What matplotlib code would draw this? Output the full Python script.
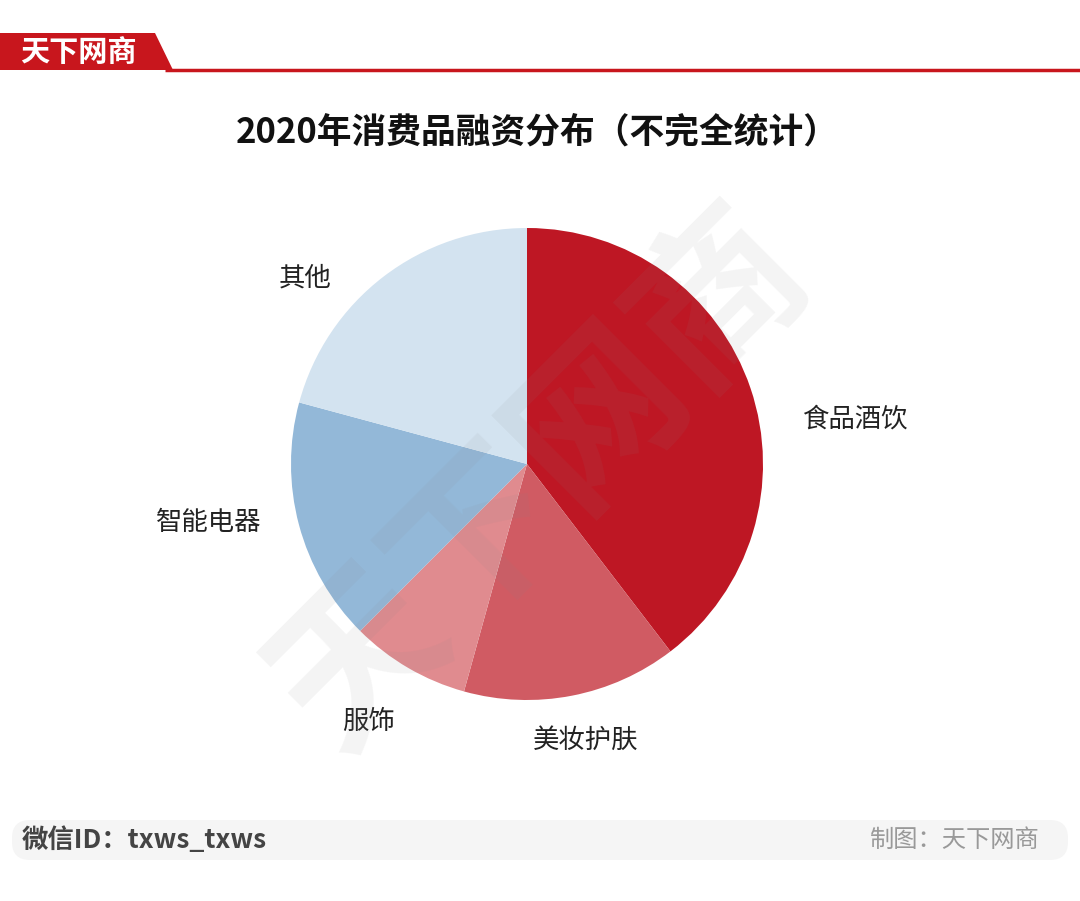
import numpy as np
import matplotlib.pyplot as plt
from matplotlib.patches import Polygon, FancyBboxPatch

plt.rcParams['font.family'] = ['Noto Sans CJK SC', 'DejaVu Sans']

# 数据 (按图中扇区角度估计, %)
categories = ['食品酒饮', '美妆护肤', '服饰', '智能电器', '其他']
shares = [39.6, 14.7, 8.2, 16.7, 20.8]
colors = ['#BE1724', '#D05B63', '#E08B8F', '#93B8D8', '#D3E3F0']
# 标签位置 (以半径为单位)
label_pos = [(1.39, 0.19), (0.25, -1.17), (-0.67, -1.09), (-1.35, -0.25), (-0.94, 0.79)]

title = '2020年消费品融资分布（不完全统计）'

fig = plt.figure(figsize=(10.8, 9.01), dpi=100)

# 背景层, 像素坐标
bg = fig.add_axes([0, 0, 1, 1])
bg.set_xlim(0, 1080)
bg.set_ylim(901, 0)
bg.axis('off')

# 顶部红色标签和横线
bg.add_patch(Polygon([(0, 33), (155, 33), (173, 70), (0, 70)], closed=True,
                     facecolor='#C8161D', edgecolor='none'))
bg.plot([165, 1080], [70, 70], color='#C8161D', lw=2.5, solid_capstyle='butt')
bg.text(78, 52, '天下网商', color='white', fontsize=21, fontweight='bold',
        ha='center', va='center')

# 标题
bg.text(537, 132, title, fontsize=25, fontweight='bold', color='#111111',
        ha='center', va='center')

# 底部信息栏
bg.add_patch(FancyBboxPatch((12, 820), 1056, 40, boxstyle='round,pad=0,rounding_size=18',
                            facecolor='#F5F5F5', edgecolor='none'))
bg.text(22, 840, '微信ID：txws_txws', fontsize=19, fontweight='bold', color='#444444',
        ha='left', va='center')
bg.text(1040, 840, '制图：天下网商', fontsize=17.5, color='#999999',
        ha='right', va='center')

# 饼图, 1 数据单位 = 236 px, 中心 (527, 464)
r_px = 236
left = (527 - 2.2 * r_px) / 1080
bottom = (901 - 464 - 1.6 * r_px) / 901
ax = fig.add_axes([left, bottom, 4.4 * r_px / 1080, 3.2 * r_px / 901])
ax.patch.set_alpha(0)
wedges, _ = ax.pie(shares, colors=colors, startangle=90, counterclock=False,
                   radius=1, wedgeprops=dict(linewidth=0))
for (x, y), name in zip(label_pos, categories):
    ax.text(x, y, name, fontsize=19, color='#222222', ha='center', va='center')

# 水印
ax.text(0.06, -0.07, '天下网商', fontsize=122, fontweight='bold', color='#888888',
        alpha=0.09, rotation=45, ha='center', va='center', zorder=5)

ax.set_xlim(-2.2, 2.2)
ax.set_ylim(-1.6, 1.6)
ax.axis('off')

fig.savefig('out.png', dpi=100)
